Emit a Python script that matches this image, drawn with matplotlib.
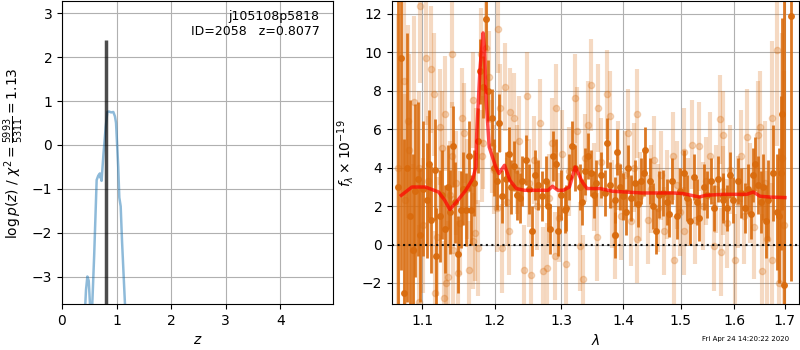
import matplotlib
matplotlib.use('Agg')
import matplotlib.pyplot as plt
from matplotlib.ticker import NullLocator, FixedLocator, FixedFormatter

# redshift fit, log p(z)
zgrid = [0.38, 0.44, 0.465, 0.49, 0.537, 0.59, 0.635, 0.665, 0.695, 0.705, 0.715, 0.725,
         0.76, 0.80, 0.83, 0.86, 0.90, 0.94, 0.97, 0.99, 1.01, 1.03, 1.05, 1.075, 1.10, 1.16]
logpz = [-4.8, -3.3, -3.0, -3.1, -4.2, -2.5, -0.8, -0.7, -0.65, -0.75, -0.68, -0.82,
         -0.2, 0.4, 0.75, 0.76, 0.74, 0.75, 0.65, 0.5, 0.0, -0.5, -1.2, -1.4, -2.2, -3.8]
zbest = 0.8077
pz_top = 2.38
root = 'j105108p5818'
obj_id = 2058
chi2_num, chi2_den = 5993, 5311

# spectrum, first beam (dark points)
wave_a = [1.068, 1.0726, 1.0757, 1.080, 1.084, 1.0876, 1.091, 1.0941, 1.0975, 1.101,
          1.1058, 1.109, 1.1119, 1.1164, 1.1185, 1.123, 1.127, 1.131, 1.134, 1.1372,
          1.1408, 1.144, 1.1484, 1.152, 1.155, 1.159, 1.163, 1.1667, 1.1704, 1.1755,
          1.1793, 1.1835, 1.188, 1.1905, 1.1953, 1.199, 1.2031, 1.206, 1.2107, 1.2164,
          1.220, 1.224, 1.2285, 1.233, 1.237, 1.2404, 1.2463, 1.250, 1.2543, 1.260,
          1.2642, 1.2703, 1.2754, 1.279, 1.283, 1.287, 1.2923, 1.2946, 1.299, 1.3052,
          1.3078, 1.3125, 1.3166, 1.321, 1.3288, 1.333, 1.3375, 1.3421, 1.3474, 1.3515,
          1.3555, 1.3637, 1.369, 1.3735, 1.378, 1.3858, 1.3868, 1.390, 1.395, 1.400,
          1.404, 1.4081, 1.413, 1.4195, 1.425, 1.4308, 1.4349, 1.4378, 1.4464, 1.451,
          1.4563, 1.461, 1.468, 1.4757, 1.480, 1.4845, 1.4935, 1.499, 1.5055, 1.511,
          1.517, 1.5237, 1.529, 1.534, 1.5432, 1.549, 1.5557, 1.5607, 1.5683, 1.5777,
          1.5788, 1.5855, 1.5916, 1.5971, 1.6075, 1.6133, 1.620, 1.626, 1.6317, 1.6361,
          1.6401, 1.6459, 1.651, 1.6566, 1.6615, 1.6665, 1.6765, 1.6834, 1.6888, 1.6921,
          1.695, 1.6988, 1.712]
flux_a = [3.0, 9.7, -2.5, 4.0, 1.5, -0.3, 2.8, 3.4, 0.5, 2.9,
          2.3, 4.2, 1.3, 3.9, -0.6, 1.5, 2.6, 0.8, 3.0, 1.7,
          5.1, 2.2, -0.5, 1.8, 2.9, 1.8, 4.6, 1.8, 3.2, 5.4,
          9.0, 8.2, 11.7, 8.0, 6.6, 4.0, 3.3, 6.3, 2.5, 3.4,
          4.7, 3.0, 4.1, 2.6, 2.4, 3.3, 4.4, 2.9, 0.7, 3.6,
          3.1, 2.5, 3.3, 2.0, 0.8, 4.6, 4.2, 0.7, 2.6, 1.8,
          1.9, 3.5, 5.1, 4.0, 3.0, 2.2, 3.8, 4.6, 3.7, 2.6,
          3.2, 3.6, 2.7, 5.3, 3.1, 0.5, 2.3, 4.8, 3.0, 2.5,
          1.7, 4.0, 2.4, 3.2, 2.1, 3.3, 3.7, 4.9, 3.3, 2.0,
          0.7, 2.6, 2.7, 2.2, 1.6, 3.3, 1.5, 2.8, 3.7, 2.4,
          1.2, 3.5, 2.2, 1.4, 3.0, 2.6, 3.3, 1.9, 3.4, 2.3,
          2.5, 1.9, 3.6, 2.3, 3.3, 2.7, 1.9, 2.9, 1.6, 3.6,
          4.2, 3.1, 2.2, 3.0, 1.2, 2.3, 3.7, 1.7, 1.5, 3.7,
          6.8, -2.1, 11.9]
err_a = [12, 11, 8, 7, 6, 5, 4.5, 4, 3.5, 3.5,
         3, 2.8, 2.8, 2.6, 2.5, 2.4, 2.3, 2.3, 2.2, 2.2,
         2.1, 2.1, 2.0, 2.0, 1.9, 1.9, 1.8, 1.8, 1.7, 1.7,
         1.7, 1.6, 1.6, 1.6, 1.5, 1.5, 1.5, 1.5, 1.4, 1.4,
         1.4, 1.4, 1.3, 1.3, 1.3, 1.3, 1.3, 1.3, 1.3, 1.3,
         1.3, 1.3, 1.3, 1.3, 1.3, 1.3, 1.3, 1.3, 1.3, 1.2,
         1.2, 1.2, 1.3, 1.2, 1.2, 1.2, 1.2, 1.2, 1.2, 1.2,
         1.2, 1.2, 1.2, 1.3, 1.2, 1.2, 1.2, 1.2, 1.2, 1.2,
         1.2, 1.2, 1.2, 1.2, 1.2, 1.2, 1.2, 1.2, 1.2, 1.2,
         1.2, 1.2, 1.2, 1.2, 1.2, 1.2, 1.2, 1.2, 1.2, 1.2,
         1.2, 1.2, 1.2, 1.2, 1.2, 1.2, 1.2, 1.2, 1.2, 1.2,
         1.2, 1.2, 1.2, 1.2, 1.2, 1.3, 1.3, 1.3, 1.3, 1.4,
         1.4, 1.5, 1.6, 1.7, 1.9, 2.1, 2.5, 3.0, 3.5, 4.0,
         5.0, 15, 13.8]

# second beam (light points)
wave_b = [1.069, 1.0765, 1.0776, 1.0817, 1.0828, 1.0878, 1.0895, 1.0953, 1.0962, 1.0966,
          1.101, 1.1053, 1.108, 1.1115, 1.1159, 1.1172, 1.120, 1.1231, 1.1262, 1.1284,
          1.1306, 1.1315, 1.1346, 1.137, 1.1398, 1.1404, 1.1418, 1.145, 1.1486, 1.151,
          1.1535, 1.1567, 1.160, 1.164, 1.1686, 1.1691, 1.1713, 1.1732, 1.1755, 1.1802,
          1.1816, 1.1825, 1.1872, 1.1915, 1.1953, 1.199, 1.2031, 1.2045, 1.2069, 1.2107,
          1.2154, 1.218, 1.2211, 1.2225, 1.2282, 1.232, 1.236, 1.2426, 1.2474, 1.251,
          1.2539, 1.258, 1.2625, 1.2671, 1.272, 1.2769, 1.281, 1.285, 1.2895, 1.2919,
          1.296, 1.3005, 1.3078, 1.312, 1.3215, 1.3252, 1.3288, 1.334, 1.338, 1.3425,
          1.3474, 1.352, 1.3575, 1.3586, 1.364, 1.3735, 1.378, 1.382, 1.3868, 1.392,
          1.397, 1.4025, 1.4081, 1.414, 1.4185, 1.4234, 1.4239, 1.429, 1.4419, 1.4475,
          1.4533, 1.4595, 1.4655, 1.4708, 1.4765, 1.4869, 1.4875, 1.4935, 1.499, 1.5057,
          1.5065, 1.513, 1.5211, 1.527, 1.534, 1.540, 1.547, 1.5538, 1.5607, 1.566,
          1.5726, 1.5744, 1.5777, 1.5788, 1.585, 1.591, 1.6012, 1.6065, 1.612, 1.618,
          1.625, 1.631, 1.6375, 1.6467, 1.650, 1.6535, 1.659, 1.6645, 1.6733, 1.6744,
          1.6844, 1.689, 1.6935, 1.698]
flux_b = [4.0, 8.5, 2.3, 6.4, 4.9, -0.3, 7.4, -3.0, 4.0, 12.4,
          1.0, 9.7, 3.3, 9.1, 7.8, -2.5, 0.4, 6.1, 5.0, -2.8,
          6.8, -2.0, -1.7, 2.6, 9.9, 4.6, -0.3, 3.2, -1.5, 1.1,
          6.6, 5.8, 2.9, -1.3, 7.5, 0.2, 0.6, 4.6, -0.2, 9.9,
          4.6, 5.3, 10.2, 8.7, 5.1, 3.9, 1.9, 11.2, 7.1, -0.2,
          8.2, 2.2, 0.7, 6.9, 6.6, 3.9, 5.4, -1.3, 7.7, 3.2,
          -1.6, 4.4, 2.0, 6.3, -1.4, -1.2, 2.4, 5.3, -0.6, 7.1,
          1.4, 4.7, -1.0, 3.8, 7.6, 5.9, -0.1, -1.8, 4.5, 6.2,
          8.3, 3.0, 0.4, 7.1, 4.3, 7.8, 6.7, 2.1, 0.5, 4.1,
          1.5, 3.6, 5.8, 1.2, 4.0, 6.8, 0.3, 2.5, 1.3, 2.9,
          4.4, 1.9, 3.6, 0.7, 2.6, 4.6, -0.8, 3.1, 1.7, 4.8,
          0.7, 2.2, 5.2, 1.3, 5.1, 2.0, 3.3, 4.6, -0.1, 2.9,
          6.5, -0.4, 5.7, 2.8, 1.1, 3.9, -0.8, 2.2, 4.6, 1.5,
          5.6, 2.7, 0.9, 5.7, 6.1, -1.4, 3.2, 0.3, -0.8, 6.6,
          10.1, -2.0, 4.5, 1.0]
err_b = [8.0, 6.0, 5.5, 5.0, 5.0, 4.5, 4.5, 4.0, 4.0, 4.0,
         3.5, 3.5, 3.4, 3.3, 3.2, 3.2, 3.1, 3.0, 3.0, 3.0,
         3.0, 2.9, 2.9, 2.8, 2.8, 2.8, 2.8, 2.7, 2.7, 2.7,
         2.6, 2.6, 2.6, 2.5, 2.5, 2.5, 2.5, 2.5, 2.5, 2.4,
         2.4, 2.4, 2.4, 2.4, 2.4, 2.3, 2.3, 2.3, 2.3, 2.3,
         2.3, 2.3, 2.3, 2.3, 2.3, 2.3, 2.3, 2.3, 2.3, 2.3,
         2.3, 2.3, 2.3, 2.3, 2.3, 2.3, 2.3, 2.3, 2.3, 2.3,
         2.3, 2.3, 2.3, 2.3, 2.3, 2.3, 2.3, 2.3, 2.3, 2.3,
         2.4, 2.3, 2.3, 2.3, 2.3, 2.3, 2.3, 2.3, 2.3, 2.3,
         2.3, 2.3, 2.3, 2.3, 2.3, 2.3, 2.3, 2.3, 2.3, 2.3,
         2.3, 2.3, 2.3, 2.3, 2.3, 2.3, 2.3, 2.3, 2.3, 2.3,
         2.3, 2.3, 2.3, 2.3, 2.3, 2.3, 2.3, 2.3, 2.3, 2.3,
         2.3, 2.3, 2.3, 2.3, 2.3, 2.3, 2.4, 2.4, 2.4, 2.5,
         2.5, 2.6, 2.7, 2.8, 2.9, 3.0, 3.2, 3.5, 4.0, 4.0,
         5.0, 5.5, 6.5, 8.0]

# best-fit model
wave_m = [1.0726, 1.0864, 1.104, 1.1218, 1.130, 1.137, 1.148, 1.159, 1.1688, 1.1731,
          1.1743, 1.179, 1.1833, 1.1855, 1.1876, 1.192, 1.2014, 1.206, 1.2141, 1.222,
          1.2314, 1.2432, 1.2673, 1.2795, 1.286, 1.2944, 1.303, 1.3125, 1.3218, 1.333,
          1.3405, 1.3615, 1.382, 1.432, 1.4867, 1.504, 1.534, 1.546, 1.580, 1.624,
          1.637, 1.650, 1.669, 1.700]
flux_m = [2.56, 2.99, 2.99, 2.73, 2.3, 1.82, 2.3, 2.82, 3.43, 4.03,
          5.77, 9.2, 11.0, 10.1, 7.56, 5.07, 4.03, 3.69, 4.12, 3.34,
          2.91, 2.82, 2.82, 2.82, 3.03, 2.82, 2.82, 2.99, 4.03, 3.25,
          2.91, 2.91, 2.77, 2.68, 2.68, 2.65, 2.47, 2.56, 2.61, 2.61,
          2.73, 2.51, 2.47, 2.44]

wave_ticks = [1.1, 1.2, 1.3, 1.4, 1.5, 1.6, 1.7]
stamp = 'Fri Apr 24 14:20:22 2020'

c_spec = (0.85, 0.42, 0.05)

fig = plt.figure(figsize=(8, 3.5), dpi=100)
ax1 = fig.add_axes([0.0775, 0.131, 0.3391, 0.865])
ax2 = fig.add_axes([0.49, 0.131, 0.509, 0.865])

ax1.plot(zgrid, logpz, color='C0', alpha=0.5, lw=1.8)
ax1.vlines(zbest, -10, pz_top, color='k', alpha=0.7, lw=2.5)
ax1.set_xlim(0, 4.97)
ax1.set_ylim(-3.63, 3.27)
ax1.set_xticks([0, 1, 2, 3, 4])
ax1.set_yticks([-3, -2, -1, 0, 1, 2, 3])
ax1.grid()
ax1.set_xlabel('$z$')
ax1.set_ylabel(r'$\log p(z)$' + ' / ' + r'$\chi^2=\frac{%d}{%d}=%.2f$'
               % (chi2_num, chi2_den, chi2_num / chi2_den))
ax1.text(0.95, 0.97, '%s\nID=%d   z=%.4f' % (root, obj_id, zbest),
         transform=ax1.transAxes, ha='right', va='top', fontsize=9)

ax2.errorbar(wave_b, flux_b, yerr=err_b, marker='o', ms=4.5, linestyle='none',
             color=c_spec, alpha=0.25, elinewidth=3, capsize=0)
ax2.errorbar(wave_a, flux_a, yerr=err_a, marker='o', ms=4, linestyle='none',
             color=c_spec, alpha=0.9, elinewidth=2, capsize=0)
ax2.plot(wave_m, flux_m, color='r', alpha=0.7, lw=2.5, zorder=10)
ax2.axhline(0, color='k', linestyle=':', lw=1.5, alpha=0.9, zorder=11)

ax2.set_xscale('log')
ax2.set_xlim(1.0607, 1.7295)
ax2.set_ylim(-3.1, 12.64)
ax2.xaxis.set_major_locator(FixedLocator(wave_ticks))
ax2.xaxis.set_major_formatter(FixedFormatter(['%.1f' % w for w in wave_ticks]))
ax2.xaxis.set_minor_locator(NullLocator())
ax2.set_yticks([-2, 0, 2, 4, 6, 8, 10, 12])
ax2.grid()
ax2.set_xlabel(r'$\lambda$')
ax2.set_ylabel(r'$f_\lambda\times10^{-19}$')

fig.text(0.986, 0.031, stamp, ha='right', va='center', fontsize=5)

fig.savefig('out.png', dpi=100)
